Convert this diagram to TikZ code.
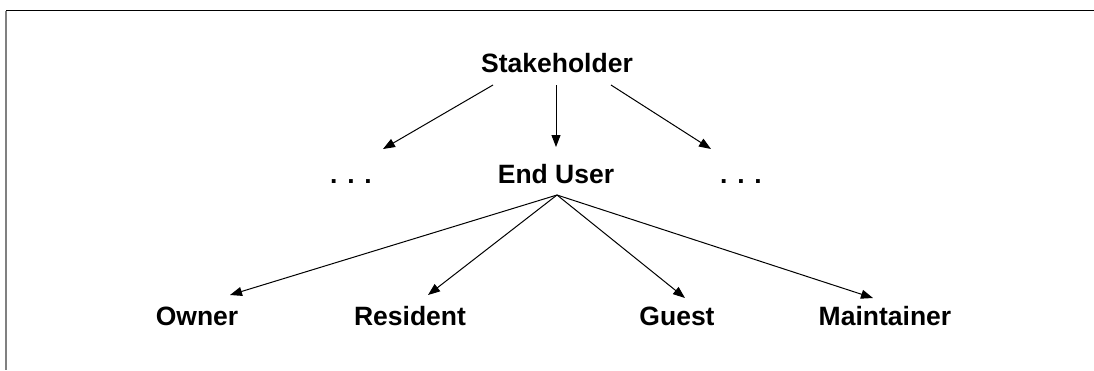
\documentclass[tikz,border=0pt]{standalone}
\usepackage{fontspec}
\setmainfont{Liberation Sans}
\usetikzlibrary{arrows.meta}
\begin{document}
\begin{tikzpicture}[x=1pt,y=1pt]
			\tikzstyle{every node}+=[inner sep=0pt]
			\tikzstyle{role}=[anchor=base,font=\fontsize{26.5}{30}\selectfont\bfseries]
			\tikzstyle{link}=[black,line width=1pt,-{Triangle[length=12pt,width=9pt]}]
			\useasboundingbox (0,0) rectangle (1094,-370);
			\draw [black,line width=1.3pt] (6,-10.5) -- (1094,-10.5);
			\draw [gray,line width=1.6pt] (6,-10.5) -- (6,-370);
			\node [role] (stake) at (557,-72) {Stakeholder};
			\node [role] (dotsL) at (351,-183) {. . .};
			\node [role] (user) at (556,-183) {End User};
			\node [role] (dotsR) at (741,-183) {. . .};
			\node [role] (owner) at (197,-325) {Owner};
			\node [role] (resid) at (410,-325) {Resident};
			\node [role] (guest) at (677,-325) {Guest};
			\node [role] (maint) at (885,-325) {Maintainer};
			\draw [link] ([shift={(-64,-13)}]stake.base) -- ([shift={(32,34)}]dotsL.base);
			\draw [link] ([shift={(-1,-13)}]stake.base) -- ([shift={(0,36)}]user.base);
			\draw [link] ([shift={(54,-13)}]stake.base) -- ([shift={(-30,34)}]dotsR.base);
			\draw [link] ([shift={(1,-12)}]user.base) -- ([shift={(33,30)}]owner.base);
			\draw [link] ([shift={(1,-12)}]user.base) -- ([shift={(18,30)}]resid.base);
			\draw [link] ([shift={(1,-12)}]user.base) -- ([shift={(8,27)}]guest.base);
			\draw [link] ([shift={(1,-12)}]user.base) -- ([shift={(-12,27)}]maint.base);
		\end{tikzpicture}
\end{document}
